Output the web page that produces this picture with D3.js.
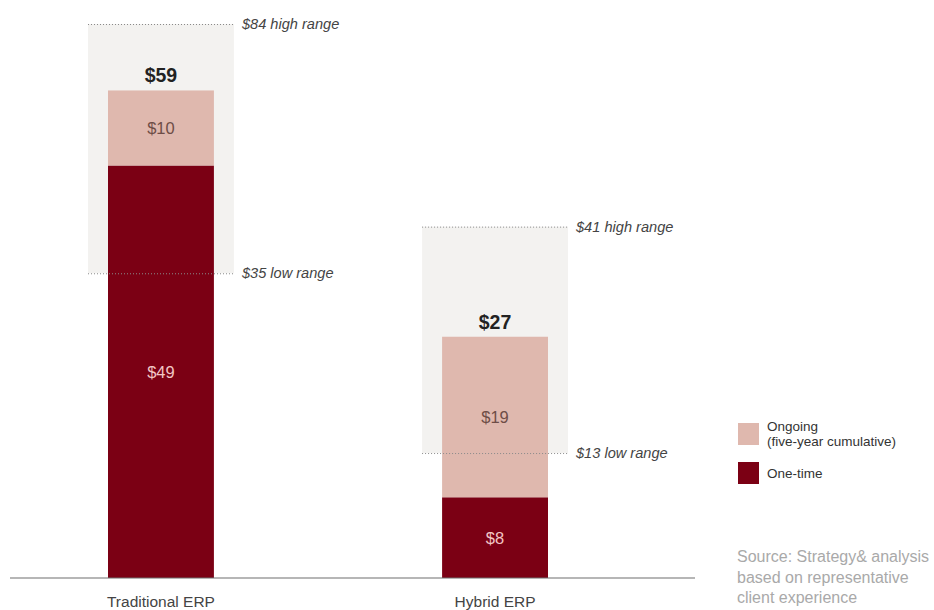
<!DOCTYPE html>
<html>
<head>
<meta charset="utf-8">
<script src="https://cdn.jsdelivr.net/npm/d3@7"></script>
<style>
  html, body { margin: 0; padding: 0; background: #fff; }
  svg { display: block; font-family: "Liberation Sans", Arial, Helvetica, sans-serif; }
</style>
</head>
<body>
<svg id="chart" width="934" height="610"></svg>
<script>
// ERP cost comparison ($ millions)
const categories = ["Traditional ERP", "Hybrid ERP"];
const oneTime = [49, 8];
const ongoing = [10, 19];
const totals = [59, 27];
const highRange = [84, 41];
const lowRange = [35, 13];
const legendLabels = [["Ongoing", "(five-year cumulative)"], ["One-time"]];
const sourceLines = ["Source: Strategy& analysis", "based on representative", "client experience"];

const colors = { ongoing: "#dfb8ae", oneTime: "#7b0014", box: "#f3f2f0" };

const svg = d3.select("#chart");
const baseY = 578;
const topY = 24;

const x = d3.scaleBand()
  .domain(categories)
  .range([108, 548])
  .paddingInner(0.683)
  .paddingOuter(0);

// Compressed vertical scale; values beyond the top are clamped to the frame
const y = d3.scalePow()
  .exponent(0.9)
  .domain([0, 68])
  .range([baseY, topY])
  .clamp(true);

const rows = categories.map((c, i) => ({
  cat: c, oneTime: oneTime[i], ongoing: ongoing[i], total: totals[i],
  high: highRange[i], low: lowRange[i]
}));

const stack = d3.stack().keys(["oneTime", "ongoing"]);
const layers = stack(rows);

// Range boxes
const boxPad = 20;
svg.append("g").selectAll("rect")
  .data(rows)
  .join("rect")
  .attr("x", d => x(d.cat) - boxPad)
  .attr("width", x.bandwidth() + boxPad * 2)
  .attr("y", d => y(d.high))
  .attr("height", d => y(d.low) - y(d.high))
  .attr("fill", colors.box);

// Stacked bars
svg.append("g").selectAll("g")
  .data(layers)
  .join("g")
  .attr("fill", d => colors[d.key])
  .selectAll("rect")
  .data(d => d.map(v => ({ v, key: d.key })))
  .join("rect")
  .attr("x", d => x(d.v.data.cat))
  .attr("width", x.bandwidth())
  .attr("y", d => y(d.v[1]))
  .attr("height", d => y(d.v[0]) - y(d.v[1]));

// Dotted range lines and labels (drawn above bars)
const lineG = svg.append("g");
rows.forEach(d => {
  [["high", d.high], ["low", d.low]].forEach(([kind, val]) => {
    lineG.append("line")
      .attr("x1", x(d.cat) - boxPad)
      .attr("x2", x(d.cat) + x.bandwidth() + boxPad)
      .attr("y1", y(val) + 0.5)
      .attr("y2", y(val) + 0.5)
      .attr("stroke", "#8a8a8a")
      .attr("stroke-width", 1)
      .attr("stroke-dasharray", "1,2");
    lineG.append("text")
      .attr("x", x(d.cat) + x.bandwidth() + boxPad + 8)
      .attr("y", y(val) + 5)
      .attr("font-size", 14.6)
      .attr("font-style", "italic")
      .attr("fill", "#444")
      .text(`$${val} ${kind} range`);
  });
});

// Segment value labels
const segLabels = svg.append("g").attr("text-anchor", "middle").attr("font-size", 16.5);
layers.forEach(layer => {
  layer.forEach(v => {
    segLabels.append("text")
      .attr("x", x(v.data.cat) + x.bandwidth() / 2)
      .attr("y", (y(v[0]) + y(v[1])) / 2 + 6)
      .attr("fill", layer.key === "oneTime" ? "#f2c6c4" : "#6e4d47")
      .text(`$${v[1] - v[0]}`);
  });
});

// Totals
svg.append("g").selectAll("text")
  .data(rows)
  .join("text")
  .attr("text-anchor", "middle")
  .attr("x", d => x(d.cat) + x.bandwidth() / 2)
  .attr("y", d => y(d.total) - 8)
  .attr("font-size", 19.5)
  .attr("font-weight", "bold")
  .attr("fill", "#222")
  .text(d => `$${d.total}`);

// Baseline axis
const xAxis = d3.axisBottom(x).tickSize(0).tickPadding(18);
const axisG = svg.append("g").attr("transform", `translate(0,${baseY})`).call(xAxis);
axisG.select(".domain").remove();
axisG.append("line")
  .attr("x1", 10).attr("x2", 695)
  .attr("stroke", "#6f6f6f").attr("stroke-width", 1.2);
axisG.selectAll(".tick text")
  .attr("font-size", 15.5)
  .attr("fill", "#444")
  .attr("font-family", "'Liberation Sans', Arial, sans-serif");

// Legend
const legend = svg.append("g").attr("transform", "translate(738,423)");
const legendColors = [colors.ongoing, colors.oneTime];
const legendOffsets = [0, 39];
legendLabels.forEach((lines, i) => {
  const g = legend.append("g").attr("transform", `translate(0,${legendOffsets[i]})`);
  g.append("rect").attr("width", 21).attr("height", 22).attr("fill", legendColors[i]);
  lines.forEach((t, j) => {
    g.append("text")
      .attr("x", 29)
      .attr("y", (lines.length === 1 ? 16 : 8) + j * 15)
      .attr("font-size", 13.5)
      .attr("fill", "#333")
      .text(t);
  });
});

// Source note
svg.append("g").selectAll("text")
  .data(sourceLines)
  .join("text")
  .attr("x", 737)
  .attr("y", (d, i) => 562 + i * 20.5)
  .attr("font-size", 16)
  .attr("fill", "#a9a9a9")
  .text(d => d);
</script>
</body>
</html>
